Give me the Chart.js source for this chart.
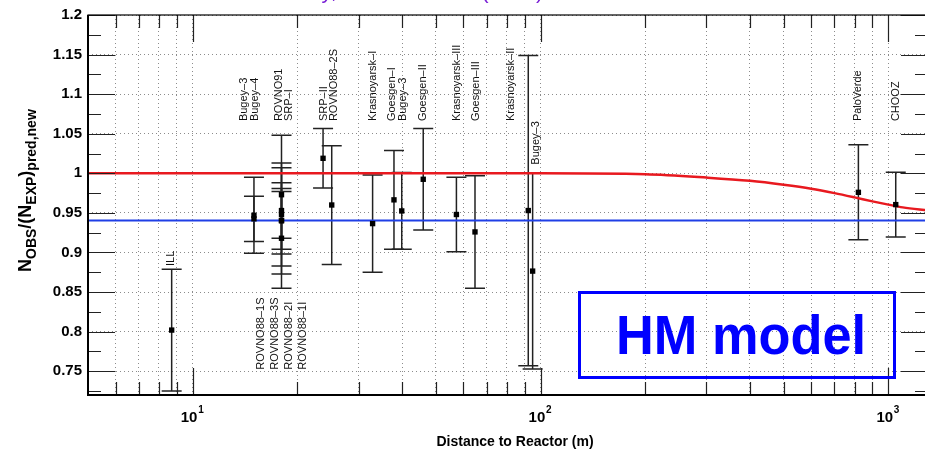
<!DOCTYPE html>
<html>
<head>
<meta charset="utf-8">
<script src="https://cdn.jsdelivr.net/npm/chart.js@4.4.1/dist/chart.umd.min.js"></script>
<style>
  html, body { margin: 0; padding: 0; background: #fff; overflow: hidden; }
</style>
</head>
<body>
<canvas id="chart" width="932" height="454"></canvas>
<script>
// Mesures : distance au réacteur (m), rapport observé / attendu, erreur
const distance = [8.7, 15, 15, 18, 18, 18, 18, 18, 18, 23.7, 25.1, 32.9, 37.9, 39.9, 46, 57.3, 64.8, 92.2, 94.9, 820, 1050];
const ratio    = [0.802, 0.9425, 0.947, 0.973, 0.948, 0.940, 0.918, 0.953, 0.9405, 1.019, 0.960, 0.9365, 0.9665, 0.9525, 0.9925, 0.948, 0.926, 0.953, 0.8765, 0.976, 0.9605];
const error    = [0.077, 0.0285, 0.048, 0.075, 0.065, 0.067, 0.063, 0.035, 0.0365, 0.0375, 0.075, 0.0615, 0.0625, 0.0485, 0.064, 0.047, 0.071, 0.196, 0.1235, 0.060, 0.041];

// Noms des expériences (texte vertical) et leur position
const labelText = ["ILL", "Bugey–3", "Bugey–4", "ROVNO91", "SRP–I", "SRP–II", "ROVNO88–2S",
  "Krasnoyarsk–I", "Goesgen–I", "Bugey–3", "Goesgen–II", "Krasnoyarsk–III", "Goesgen–III",
  "Krasnoyarsk–II", "Bugey–3", "PaloVerde", "CHOOZ",
  "ROVNO88–1S", "ROVNO88–3S", "ROVNO88–2I", "ROVNO88–1I"];
const labelDist = [8.67, 14.0, 15.07, 17.74, 18.95, 23.88, 25.5, 33.0, 37.5, 40.3, 45.9, 57.4, 65.1,
  82.1, 97.2, 820, 1050, 15.7, 17.2, 18.86, 20.7];
const labelFrom = [0.883, 1.066, 1.066, 1.066, 1.066, 1.066, 1.066, 1.066, 1.066, 1.066, 1.066, 1.066, 1.066,
  1.066, 1.011, 1.066, 1.066, 0.752, 0.752, 0.752, 0.752];

// Courbe rouge (prédiction avec oscillation)
const curveDist  = [5, 100, 200, 300, 400, 500, 600, 700, 800, 900, 1000, 1100, 1300];
const curveRatio = [1.0, 1.0, 0.9988, 0.9946, 0.9905, 0.9855, 0.9805, 0.975, 0.9696, 0.9646, 0.9605, 0.957, 0.953];

// Moyenne (ligne bleue)
const meanRatio = 0.9405;

// Axes
const xMin = 5, xMax = 1300;
const yMin = 0.72, yMax = 1.2;
const xTicks = [6, 7, 8, 9, 10, 20, 30, 40, 50, 60, 70, 80, 90, 100, 200, 300, 400, 500, 600, 700, 800, 900, 1000];
const xDecades = [10, 100, 1000];
const xDecadeExp = ["1", "2", "3"];
const yMajor = [0.75, 0.8, 0.85, 0.9, 0.95, 1.0, 1.05, 1.1, 1.15, 1.2];
const yMinor = [0.725, 0.775, 0.825, 0.875, 0.925, 0.975, 1.025, 1.075, 1.125, 1.175];

const FONT = "'Liberation Sans', Arial, Helvetica, sans-serif";

// Barres d'erreur
const errorBars = {
  id: "errorBars",
  beforeDatasetsDraw(chart) {
    const { ctx, scales: { x, y } } = chart;
    ctx.save();
    ctx.strokeStyle = "#222";
    ctx.lineWidth = 1.5;
    distance.forEach((d, i) => {
      const px = x.getPixelForValue(d);
      const top = y.getPixelForValue(ratio[i] + error[i]);
      const bot = y.getPixelForValue(ratio[i] - error[i]);
      ctx.beginPath();
      ctx.moveTo(px, top); ctx.lineTo(px, bot);
      ctx.moveTo(px - 10, top); ctx.lineTo(px + 10, top);
      ctx.moveTo(px - 10, bot); ctx.lineTo(px + 10, bot);
      ctx.stroke();
    });
    ctx.restore();
  }
};

// Cadre, graduations, titres, étiquettes
const decorations = {
  id: "decorations",
  afterDraw(chart) {
    const { ctx, chartArea: a, scales: { x, y } } = chart;
    ctx.save();

    // graduations intérieures
    ctx.strokeStyle = "#222";
    ctx.lineWidth = 1.2;
    ctx.beginPath();
    xTicks.forEach(v => {
      const px = Math.round(x.getPixelForValue(v)) + 0.5;
      const len = xDecades.includes(v) ? 27 : 13;
      ctx.moveTo(px, a.bottom); ctx.lineTo(px, a.bottom - len);
      ctx.moveTo(px, a.top); ctx.lineTo(px, a.top + len);
    });
    yMajor.concat(yMinor).forEach(v => {
      const py = Math.round(y.getPixelForValue(v)) + 0.5;
      const len = yMajor.includes(v) ? 27 : 13;
      ctx.moveTo(a.left, py); ctx.lineTo(a.left + len, py);
      ctx.moveTo(a.right, py); ctx.lineTo(a.right - len, py);
    });
    ctx.stroke();

    // cadre
    ctx.strokeStyle = "#000";
    ctx.lineWidth = 1.2;
    ctx.strokeRect(a.left, a.top, a.right - a.left, a.bottom - a.top);
    ctx.lineWidth = 2;
    ctx.beginPath();
    ctx.moveTo(a.left, a.top); ctx.lineTo(a.left, a.bottom); ctx.lineTo(a.right, a.bottom);
    ctx.stroke();

    // étiquettes de l'axe x (10^n)
    ctx.fillStyle = "#000";
    ctx.textBaseline = "alphabetic";
    xDecades.forEach((v, i) => {
      const px = x.getPixelForValue(v);
      ctx.font = "bold 15px " + FONT;
      ctx.textAlign = "right";
      ctx.fillText("10", px + 4.7, a.bottom + 27);
      ctx.font = "bold 10px " + FONT;
      ctx.textAlign = "left";
      ctx.fillText(xDecadeExp[i], px + 5.5, a.bottom + 18);
    });

    // titre de l'axe x
    ctx.font = "bold 14px " + FONT;
    ctx.textAlign = "center";
    ctx.fillText("Distance to Reactor (m)", 515, 446);

    // titre de l'axe y avec indices
    ctx.save();
    ctx.translate(31, 272);
    ctx.rotate(-Math.PI / 2);
    ctx.textAlign = "left";
    let cx = 0;
    [["N", 0], ["OBS", 1], ["/(N", 0], ["EXP", 1], [")", 0], ["pred,new", 1]].forEach(([t, sub]) => {
      ctx.font = sub ? "bold 14px " + FONT : "bold 18px " + FONT;
      ctx.fillText(t, cx, sub ? 5 : 0);
      cx += ctx.measureText(t).width;
    });
    ctx.restore();

    // noms des expériences
    ctx.font = "11px " + FONT;
    ctx.fillStyle = "#111";
    ctx.textAlign = "left";
    ctx.textBaseline = "middle";
    labelText.forEach((t, i) => {
      const px = x.getPixelForValue(labelDist[i]);
      const py = y.getPixelForValue(labelFrom[i]);
      ctx.save();
      ctx.translate(px, py);
      ctx.rotate(-Math.PI / 2);
      ctx.fillText(t, 0, 0);
      ctx.restore();
    });

    // encadré "HM model"
    ctx.strokeStyle = "#0000ff";
    ctx.lineWidth = 3;
    ctx.strokeRect(579.5, 292.5, 315, 85);
    ctx.save();
    ctx.fillStyle = "#0000ff";
    ctx.font = "bold 56px " + FONT;
    ctx.textAlign = "center";
    ctx.textBaseline = "alphabetic";
    ctx.translate(741, 354);
    ctx.scale(0.935, 1);
    ctx.fillText("HM model", 0, 0);
    ctx.restore();

    // titre (coupé en haut de l'image)
    ctx.fillStyle = "#7b22d6";
    ctx.font = "22px " + FONT;
    ctx.textAlign = "left";
    ctx.textBaseline = "alphabetic";
    const title = "Reactor anomaly, Mention et al. (2011)";
    const x0 = 327 - ctx.measureText("Reactor anomal").width - ctx.measureText("y").width / 2;
    ctx.fillText(title, x0, -2);

    ctx.restore();
  }
};

const points = distance.map((d, i) => ({ x: d, y: ratio[i] }));

new Chart(document.getElementById("chart").getContext("2d"), {
  type: "scatter",
  data: {
    datasets: [
      {
        label: "data",
        data: points,
        pointStyle: "rect",
        pointRadius: 3.8,
        backgroundColor: "#000",
        borderWidth: 0,
        order: 0
      },
      {
        label: "prediction",
        type: "line",
        data: curveDist.map((d, i) => ({ x: d, y: curveRatio[i] })),
        borderColor: "#e8191f",
        borderWidth: 2.5,
        pointRadius: 0,
        cubicInterpolationMode: "monotone",
        fill: false,
        order: 1
      },
      {
        label: "mean",
        type: "line",
        data: [{ x: xMin, y: meanRatio }, { x: xMax, y: meanRatio }],
        borderColor: "#1f3fe6",
        borderWidth: 2,
        pointRadius: 0,
        fill: false,
        order: 2
      }
    ]
  },
  options: {
    responsive: false,
    animation: false,
    layout: { padding: { top: 13, right: 2, left: 0, bottom: 0 } },
    plugins: { legend: { display: false }, tooltip: { enabled: false } },
    scales: {
      x: {
        type: "logarithmic",
        min: xMin,
        max: xMax,
        afterBuildTicks: s => { s.ticks = xTicks.map(v => ({ value: v })); },
        afterFit: s => { s.height = 59; },
        ticks: { display: false },
        grid: { color: "#8c8c8c", lineWidth: 1, drawTicks: false },
        border: { display: false, dash: [1, 3] }
      },
      y: {
        min: yMin,
        max: yMax,
        afterBuildTicks: s => { s.ticks = yMajor.map(v => ({ value: v })); },
        afterFit: s => { s.width = 88; },
        ticks: {
          color: "#000",
          padding: 6,
          font: { family: FONT, size: 15, weight: "bold" },
          callback: v => String(+v.toFixed(2))
        },
        grid: { color: "#8c8c8c", lineWidth: 1, drawTicks: false },
        border: { display: false, dash: [1, 3] }
      }
    }
  },
  plugins: [errorBars, decorations]
});
</script>
</body>
</html>
